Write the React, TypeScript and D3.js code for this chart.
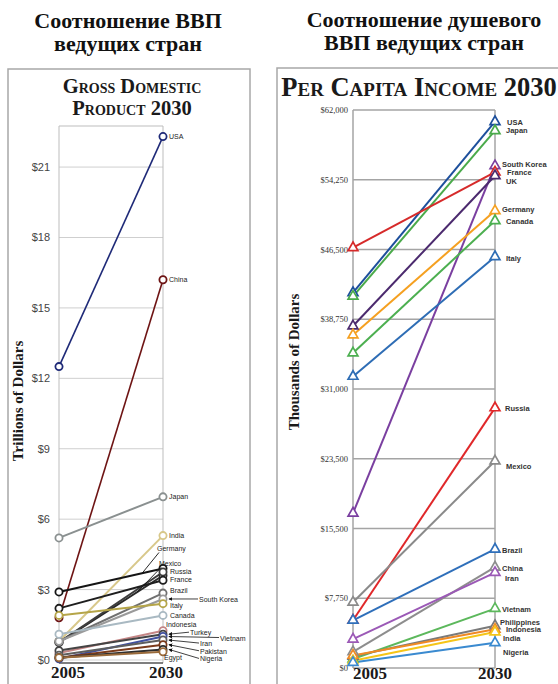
import React from "react";
import * as d3 from "d3";

// ---------- Left chart: GDP (trillions of dollars) ----------
const gdpCountries = [
  "USA", "China", "Japan", "India", "Germany", "Mexico", "Russia", "France",
  "Brazil", "South Korea", "Italy", "Canada", "Indonesia", "Turkey", "Vietnam",
  "Iran", "Pakistan", "Nigeria", "Egypt",
];
const gdp2005 = [12.5, 1.8, 5.2, 0.8, 2.9, 0.75, 0.75, 2.2, 0.8, 0.8, 1.9, 1.1, 0.3, 0.4, 0.05, 0.2, 0.1, 0.1, 0.1];
const gdp2030 = [22.3, 16.2, 6.95, 5.3, 3.9, 3.6, 3.75, 3.4, 2.85, 2.6, 2.4, 1.9, 1.25, 1.1, 1.0, 0.85, 0.65, 0.45, 0.35];
const gdpColors = [
  "#1f2a78", "#6e1414", "#8a9090", "#d8c88a", "#151515", "#2a2a2a", "#3c3c3c", "#1e1e1e",
  "#707070", "#9a9a9a", "#b5a548", "#a9b9c2", "#c48686", "#444444", "#4050a0",
  "#5e5e5e", "#7a3a1a", "#2e2e2e", "#9a6a3a",
];
const gdpTicks = [0, 3, 6, 9, 12, 15, 18, 21];
const gdpTickLabels = ["$0", "$3", "$6", "$9", "$12", "$15", "$18", "$21"];

// ---------- Right chart: per capita income ----------
const pcCountries = [
  "USA", "Japan", "South Korea", "France", "UK", "Germany", "Canada", "Italy",
  "Russia", "Mexico", "Brazil", "China", "Iran", "Vietnam", "Philippines",
  "Indonesia", "India", "Nigeria",
];
const pc2005 = [41700, 41300, 17200, 46700, 38000, 37000, 35000, 32400, 5300, 7300, 5300, 1800, 3200, 1000, 1300, 1400, 800, 600];
const pc2030 = [60700, 59700, 55800, 55100, 54700, 50800, 49700, 45700, 28900, 23000, 13200, 11200, 10600, 6600, 4700, 4300, 4000, 2800];
const pcColors = [
  "#1d4f9c", "#4aaa4a", "#7a3fa0", "#d62a2a", "#4b2a6e", "#f5a020", "#4caf50", "#2e6db5",
  "#e0282a", "#8a8a8a", "#2f6fba", "#8d8d8d", "#9b59b6", "#5cb85c", "#7a7a7a",
  "#f08a24", "#f5c518", "#3a8ad0",
];
const pcTicks = [0, 7750, 15500, 23250, 31000, 38750, 46500, 54250, 62000];
const pcTickLabels = ["$0", "$7,750", "$15,500", "$23,500", "$31,000", "$38,750", "$46,500", "$54,250", "$62,000"];

const years = ["2005", "2030"];

// ---------- label layout (pixel offsets, not data) ----------
type LL = { dx: number; dy: number; leader?: "arrow" | "line"; lx?: number };
const gdpLabelLayout: Record<string, LL> = {
  USA: { dx: 6, dy: 2 },
  China: { dx: 6, dy: 2 },
  Japan: { dx: 6, dy: 2 },
  India: { dx: 6, dy: 2 },
  Germany: { dx: -6, dy: -17, leader: "line", lx: 0.8 },
  Mexico: { dx: -4, dy: -9, leader: "line", lx: 0.75 },
  Russia: { dx: 7, dy: 2 },
  France: { dx: 7, dy: 2 },
  Brazil: { dx: 7, dy: 0 },
  "South Korea": { dx: 36, dy: 3, leader: "arrow" },
  Italy: { dx: 7, dy: 4 },
  Canada: { dx: 7, dy: 3 },
  Indonesia: { dx: 3, dy: -4 },
  Turkey: { dx: 27, dy: 1, leader: "arrow" },
  Vietnam: { dx: 57, dy: 4, leader: "arrow" },
  Iran: { dx: 37, dy: 6, leader: "arrow" },
  Pakistan: { dx: 37, dy: 9, leader: "arrow" },
  Nigeria: { dx: 37, dy: 12, leader: "arrow" },
  Egypt: { dx: 1, dy: 8 },
};
const pcLabelLayout: Record<string, { dx: number; dy: number }> = {
  USA: { dx: 12, dy: 3 },
  Japan: { dx: 11, dy: 2 },
  "South Korea": { dx: 7, dy: 1 },
  France: { dx: 12, dy: 3 },
  UK: { dx: 11, dy: 8 },
  Germany: { dx: 7, dy: 1 },
  Canada: { dx: 11, dy: 3 },
  Italy: { dx: 11, dy: 4 },
  Russia: { dx: 10, dy: 3 },
  Mexico: { dx: 11, dy: 8 },
  Brazil: { dx: 7, dy: 4 },
  China: { dx: 7, dy: 4 },
  Iran: { dx: 10, dy: 8 },
  Vietnam: { dx: 7, dy: 3 },
  Philippines: { dx: 5, dy: -1 },
  Indonesia: { dx: 11, dy: 3 },
  India: { dx: 8, dy: 9 },
  Nigeria: { dx: 8, dy: 12 },
};

const W = 558;
const H = 684;

export default function App() {
  // left scales
  const lx = d3.scalePoint<string>().domain(years).range([59, 163]);
  const ly = d3.scaleLinear().domain([0, 22.75]).range([660, 126]);
  // right scales
  const rx = d3.scalePoint<string>().domain(years).range([353, 495]);
  const ry = d3.scaleLinear().domain([0, 62000]).range([668, 110]);

  const lLine = d3.line<[string, number]>().x((d) => lx(d[0])!).y((d) => ly(d[1]));
  const rLine = d3.line<[string, number]>().x((d) => rx(d[0])!).y((d) => ry(d[1]));
  const tri = d3.symbol().type(d3.symbolTriangle).size(42)()!;

  const lx0 = lx("2005")!;
  const lx1 = lx("2030")!;
  const rx0 = rx("2005")!;
  const rx1 = rx("2030")!;

  const serif = "'Liberation Serif', 'Times New Roman', serif";
  const sans = "'Liberation Sans', Arial, sans-serif";

  return (
    <svg
      width={W}
      height={H}
      style={{ position: "absolute", left: 0, top: 0, background: "#fff" }}
    >
      <defs>
        <marker id="arr" viewBox="0 0 6 6" refX="5" refY="3" markerWidth="5" markerHeight="5" orient="auto">
          <path d="M0,0 L6,3 L0,6 z" fill="#111" />
        </marker>
      </defs>
      <rect x={0} y={0} width={W} height={H} fill="#fff" />

      {/* Headings */}
      <g fontFamily={serif} fontWeight="bold" fontSize={22} fill="#111" textAnchor="middle">
        <text x={128} y={28}>Соотношение ВВП</text>
        <text x={128} y={51}>ведущих стран</text>
        <text x={424} y={27}>Соотношение душевого</text>
        <text x={424} y={50}>ВВП ведущих стран</text>
      </g>

      {/* ---------------- Left panel ---------------- */}
      <rect x={8} y={69} width={242} height={640} fill="none" stroke="#a8a8a8" strokeWidth={1.5} />
      <g fontFamily={serif} fontWeight="bold" fontSize={20.5} fill="#1a1a1a" textAnchor="middle" style={{ fontVariant: "small-caps" }}>
        <text x={132} y={93}>Gross Domestic</text>
        <text x={132} y={115}>Product 2030</text>
      </g>
      {/* gridlines */}
      {gdpTicks.map((t) => (
        <line key={"lg" + t} x1={lx0} x2={lx1} y1={ly(t)} y2={ly(t)} stroke="#cfcfcf" strokeWidth={1} />
      ))}
      <line x1={lx0} x2={lx1} y1={ly(22.75)} y2={ly(22.75)} stroke="#bdbdbd" strokeWidth={1} />
      <line x1={lx0} x2={lx0} y1={ly(22.75)} y2={ly(0) + 3} stroke="#bdbdbd" strokeWidth={1} />
      <line x1={lx1} x2={lx1} y1={ly(22.75)} y2={ly(0) + 3} stroke="#bdbdbd" strokeWidth={1} />
      <line x1={lx0} x2={lx1} y1={ly(0) + 3} y2={ly(0) + 3} stroke="#555" strokeWidth={1.5} />
      {gdpTicks.map((t, i) => (
        <text key={"lt" + t} x={50} y={ly(t) + 4} fontFamily={sans} fontSize={11} fill="#444" textAnchor="end">
          {gdpTickLabels[i]}
        </text>
      ))}
      <text
        transform={`translate(23,${401}) rotate(-90)`}
        fontFamily={serif}
        fontWeight="bold"
        fontSize={15}
        fill="#1a1a1a"
        textAnchor="middle"
      >
        Trillions of Dollars
      </text>
      {/* lines */}
      {gdpCountries.map((c, i) => (
        <path
          key={"ll" + c}
          d={lLine([["2005", gdp2005[i]], ["2030", gdp2030[i]]])!}
          fill="none"
          stroke={gdpColors[i]}
          strokeWidth={c === "USA" || c === "China" ? 1.6 : 2}
        />
      ))}
      {gdpCountries.map((c, i) => (
        <g key={"lc" + c}>
          <circle cx={lx0} cy={ly(gdp2005[i])} r={3.6} fill="#fff" stroke={gdpColors[i]} strokeWidth={1.8} />
          <circle cx={lx1} cy={ly(gdp2030[i])} r={3.6} fill="#fff" stroke={gdpColors[i]} strokeWidth={1.8} />
        </g>
      ))}
      {/* labels */}
      {gdpCountries.map((c, i) => {
        const L = gdpLabelLayout[c];
        const cy = ly(gdp2030[i]);
        const tx = lx1 + L.dx;
        const ty = cy + L.dy;
        let leader = null;
        if (L.leader === "arrow") {
          leader = (
            <line x1={tx - 1} y1={ty - 3} x2={lx1 + 6} y2={cy} stroke="#111" strokeWidth={0.8} markerEnd="url(#arr)" />
          );
        } else if (L.leader === "line") {
          const f = L.lx ?? 0.8;
          const px = lx0 + (lx1 - lx0) * f;
          const py = ly(gdp2005[i] + (gdp2030[i] - gdp2005[i]) * f);
          leader = <line x1={tx + 2} y1={ty + 1} x2={px} y2={py} stroke="#111" strokeWidth={0.9} />;
        }
        return (
          <g key={"lb" + c}>
            {leader}
            <text x={tx} y={ty} fontFamily={sans} fontSize={7} fill="#222">
              {c}
            </text>
          </g>
        );
      })}
      <g fontFamily={serif} fontWeight="bold" fontSize={17} fill="#1a1a1a" textAnchor="middle">
        <text x={lx0 + 9} y={678}>{years[0]}</text>
        <text x={lx1 + 3} y={678}>{years[1]}</text>
      </g>

      {/* ---------------- Right panel ---------------- */}
      <rect x={277} y={68} width={290} height={640} fill="none" stroke="#a8a8a8" strokeWidth={1.5} />
      <text
        x={419}
        y={96}
        fontFamily={serif}
        fontWeight="bold"
        fontSize={26.5}
        fill="#1a1a1a"
        textAnchor="middle"
        style={{ fontVariant: "small-caps" }}
      >
        Per Capita Income 2030
      </text>
      {pcTicks.map((t) => (
        <line key={"rg" + t} x1={rx0} x2={rx1} y1={ry(t)} y2={ry(t)} stroke="#a4a4a4" strokeWidth={1.5} />
      ))}
      <line x1={rx0} x2={rx0} y1={ry(62000)} y2={ry(0)} stroke="#a4a4a4" strokeWidth={1.5} />
      <line x1={rx1} x2={rx1} y1={ry(62000)} y2={ry(0)} stroke="#a4a4a4" strokeWidth={1.5} />
      {pcTicks.map((t, i) => (
        <text key={"rt" + t} x={348} y={ry(t) + 3} fontFamily={serif} fontSize={8.5} fill="#333" textAnchor="end">
          {pcTickLabels[i]}
        </text>
      ))}
      <text
        transform={`translate(299,${362}) rotate(-90)`}
        fontFamily={serif}
        fontWeight="bold"
        fontSize={15}
        fill="#1a1a1a"
        textAnchor="middle"
      >
        Thousands of Dollars
      </text>
      {pcCountries.map((c, i) => (
        <path
          key={"rl" + c}
          d={rLine([["2005", pc2005[i]], ["2030", pc2030[i]]])!}
          fill="none"
          stroke={pcColors[i]}
          strokeWidth={2}
        />
      ))}
      {pcCountries.map((c, i) => (
        <g key={"rm" + c}>
          <path d={tri} transform={`translate(${rx0},${ry(pc2005[i])})`} fill="#fff" stroke={pcColors[i]} strokeWidth={1.7} />
          <path d={tri} transform={`translate(${rx1},${ry(pc2030[i])})`} fill="#fff" stroke={pcColors[i]} strokeWidth={1.7} />
        </g>
      ))}
      {pcCountries.map((c, i) => {
        const L = pcLabelLayout[c];
        return (
          <text
            key={"rlb" + c}
            x={rx1 + L.dx}
            y={ry(pc2030[i]) + L.dy}
            fontFamily={sans}
            fontWeight="bold"
            fontSize={7.5}
            fill="#333"
          >
            {c}
          </text>
        );
      })}
      <g fontFamily={serif} fontWeight="bold" fontSize={17} fill="#1a1a1a" textAnchor="middle">
        <text x={rx0 + 17} y={679}>{years[0]}</text>
        <text x={rx1} y={679}>{years[1]}</text>
      </g>
    </svg>
  );
}
